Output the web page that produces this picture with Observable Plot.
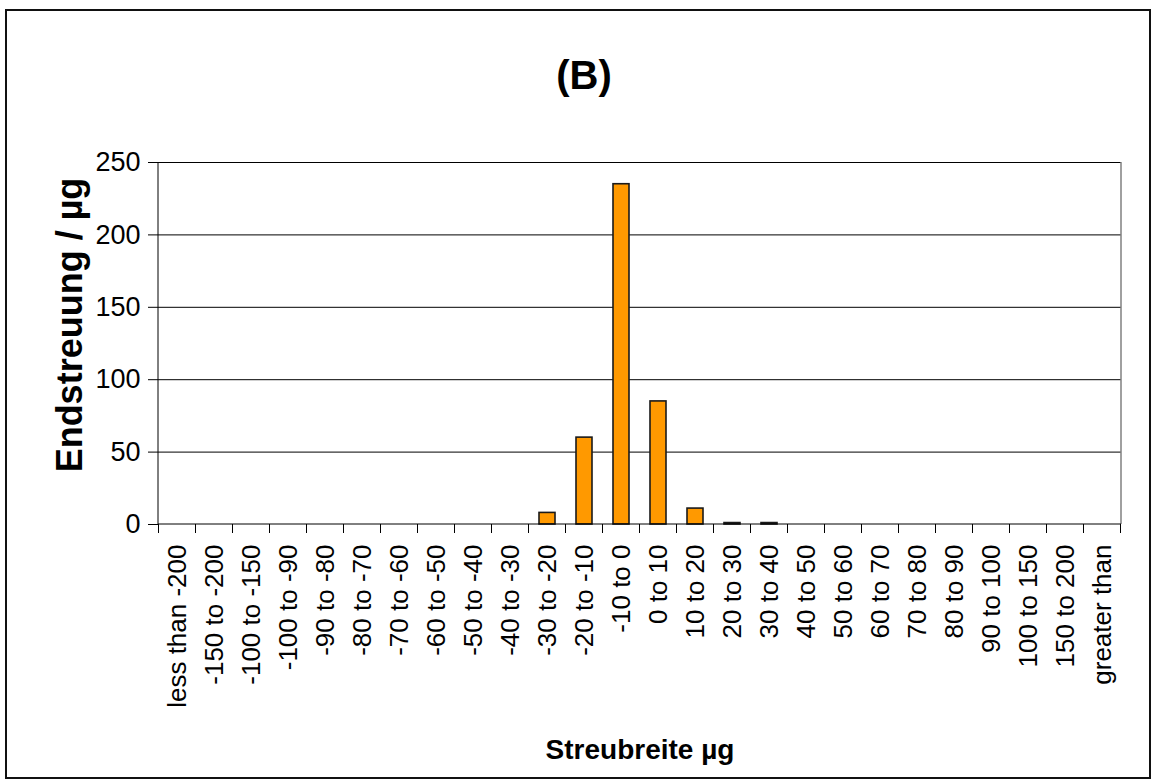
<!DOCTYPE html>
<html><head><meta charset="utf-8">
<script src="https://cdn.jsdelivr.net/npm/d3@7"></script>
<script src="https://cdn.jsdelivr.net/npm/@observablehq/plot@0.6"></script>
<style>
body{margin:0;background:#fff;}
#wrap{position:relative;width:1152px;height:780px;font-family:"Liberation Sans",Arial,sans-serif;color:#000;overflow:hidden;}
#border{position:absolute;left:5px;top:9px;width:1146px;height:770px;border:2px solid #111;box-sizing:border-box;pointer-events:none;}
#title{position:absolute;left:584px;top:75px;transform:translate(-50%,-50%);font-weight:bold;font-size:40px;white-space:nowrap;}
#ylab{position:absolute;left:70px;top:325px;transform:translate(-50%,-50%) rotate(-90deg);font-weight:bold;font-size:36px;white-space:nowrap;}
#xlab{position:absolute;left:640px;top:750px;transform:translate(-50%,-50%);font-weight:bold;font-size:28px;white-space:nowrap;}
#chart{position:absolute;left:0;top:0;}
</style>
</head><body>
<div id="wrap">
  <div id="chart"></div>
  <div id="title">(B)</div>
  <div id="ylab">Endstreuung / µg</div>
  <div id="xlab">Streubreite µg</div>
  <div id="border"></div>
</div>
<script>
const categories = ["less than -200","-150 to -200","-100 to -150","-100 to -90","-90 to -80","-80 to -70","-70 to -60","-60 to -50","-50 to -40","-40 to -30","-30 to -20","-20 to -10","-10 to 0","0 to 10","10 to 20","20 to 30","30 to 40","40 to 50","50 to 60","60 to 70","70 to 80","80 to 90","90 to 100","100 to 150","150 to 200","greater than"];
const values = [0,0,0,0,0,0,0,0,0,0,8,60,235,85,11,1,1,0,0,0,0,0,0,0,0,0];
const yTicks = [0,50,100,150,200,250];

const data = categories.map((c, i) => ({category: c, value: values[i]}));

function frameLines(index, scales, vals, dims) {
  const x = scales.x, y = scales.y;
  const bw = x.bandwidth ? x.bandwidth() : 0;
  const step = x(categories[1]) - x(categories[0]);
  const left = dims.marginLeft, right = dims.width - dims.marginRight;
  const y0 = y(0), yTop = y(yTicks[yTicks.length - 1]);
  const g = d3.create("svg:g");
  const bounds = categories.map(c => x(c) + bw / 2 - step / 2);
  bounds.push(bounds[bounds.length - 1] + step);
  for (const b of bounds) {
    g.append("line").attr("x1", b).attr("x2", b).attr("y1", y0).attr("y2", y0 + 9)
      .attr("stroke", "#000").attr("stroke-width", 1);
  }
  g.append("line").attr("x1", right).attr("x2", right).attr("y1", yTop).attr("y2", y0)
    .attr("stroke", "#808080").attr("stroke-width", 1.5);
  g.append("line").attr("x1", left).attr("x2", left).attr("y1", yTop).attr("y2", y0)
    .attr("stroke", "#000").attr("stroke-width", 1);
  g.append("line").attr("x1", left).attr("x2", right).attr("y1", y0).attr("y2", y0)
    .attr("stroke", "#000").attr("stroke-width", 1);
  return g.node();
}

const chart = Plot.plot({
  width: 1152,
  height: 780,
  marginLeft: 158,
  marginRight: 31,
  marginTop: 162,
  marginBottom: 256,
  style: {fontFamily: "'Liberation Sans', Arial, sans-serif", color: "#000", background: "transparent"},
  x: {domain: categories, paddingInner: 0.57, paddingOuter: 0.285, axis: null},
  y: {domain: [0, 250], axis: null},
  marks: [
    Plot.ruleY(yTicks.filter(d => d > 0), {stroke: "#000", strokeWidth: 1}),
    Plot.barY(data, {x: "category", y: "value", fill: "#FF9900", stroke: "#1a1a1a", strokeWidth: 1.6}),
    Plot.axisY({ticks: yTicks, tickSize: 10, tickPadding: 8, fontSize: 27, label: null, stroke: "#000", strokeOpacity: 1}),
    Plot.axisX({tickSize: 0, tickPadding: 20, tickRotate: -90, fontSize: 26, label: null}),
    frameLines
  ]
});
document.getElementById("chart").appendChild(chart);
</script>
</body></html>
